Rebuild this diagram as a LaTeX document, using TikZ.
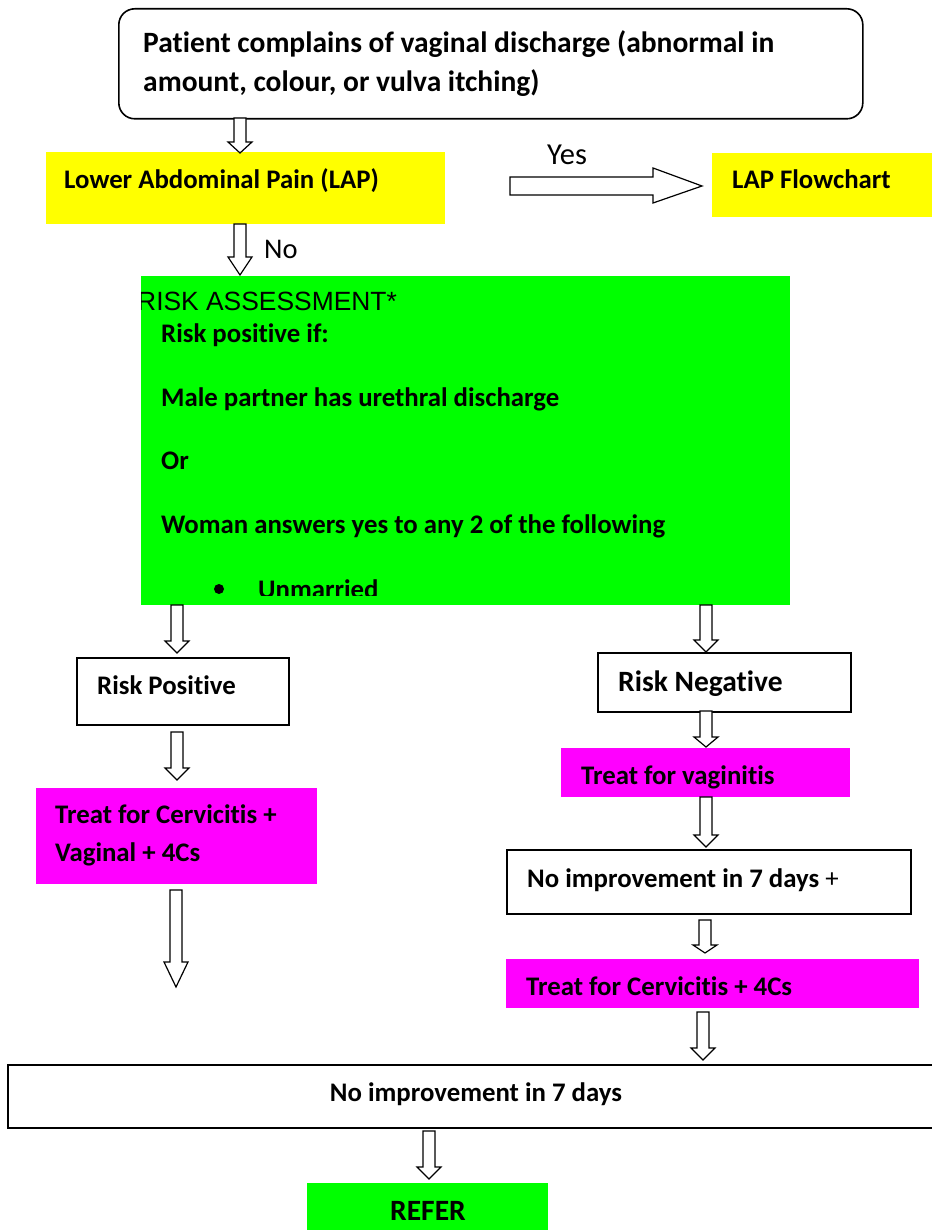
\documentclass[tikz,border=0pt]{standalone}
\usepackage{fontspec}
\setmainfont[Ligatures=NoCommon]{Carlito}
\newfontfamily\arialfont{Liberation Sans}
\definecolor{ylw}{HTML}{FFFF00}
\definecolor{grn}{HTML}{00FF00}
\definecolor{mag}{HTML}{FF00FF}
\tikzset{
  wbox/.style={draw=black, line width=1.6pt, fill=white, inner sep=0pt, anchor=north west},
  cbox/.style={inner sep=0pt, anchor=north west},
  txt/.style={inner sep=0pt, anchor=base west, font=\fontsize{26.8}{30}\selectfont\bfseries},
  bigtxt/.style={inner sep=0pt, anchor=base west, font=\fontsize{29.5}{33}\selectfont\bfseries},
  rtxt/.style={inner sep=0pt, anchor=base west, font=\fontsize{28.5}{32}\selectfont},
  harrow/.style={draw=black, line width=1.2pt, fill=white, line join=miter}
}
\newcommand{\hdown}[4]{% x, ytop, ytip, head length
  \draw[harrow] ({#1-6},#2) -- ({#1+6},#2) -- ({#1+6},{#3-#4}) -- ({#1+12},{#3-#4})
    -- (#1,#3) -- ({#1-12},{#3-#4}) -- ({#1-6},{#3-#4}) -- cycle;}
\begin{document}
\begin{tikzpicture}[x=1pt,y=-1pt]
\useasboundingbox (0,0) rectangle (931,1230);
% top box
\node[wbox, rounded corners=16pt, minimum width=744pt, minimum height=110pt] (start) at (118,8) {};
\node[bigtxt] (t1) at (143,53) {Patient complains of vaginal discharge (abnormal in};
\node[bigtxt] (t2) at (143,92) {amount, colour, or vulva itching)};
% LAP
\node[cbox, fill=ylw, minimum width=399pt, minimum height=72pt] (lap) at (46,152) {};
\node[txt] at (64,189) {Lower Abdominal Pain (LAP)};
\node[cbox, fill=ylw, minimum width=222pt, minimum height=64pt] (lapf) at (712,153) {};
\node[txt] at (732,189) {LAP Flowchart};
\node[rtxt, font=\fontsize{30.5}{34}\selectfont] (yes) at (547,165) {Yes};
\node[rtxt] (no) at (264,259) {No};
% green risk box
\node[cbox, fill=grn, minimum width=649pt, minimum height=329pt] (risk) at (141,276) {};
\begin{scope}
\clip (141,276) rectangle (790,595);
\node[inner sep=0pt, anchor=base west, font=\arialfont\fontsize{26.4}{30}\selectfont] at (137,310) {RISK ASSESSMENT*};
\node[txt] at (161,342) {Risk positive if:};
\node[txt] at (161,406) {Male partner has urethral discharge};
\node[txt] at (161,469) {Or};
\node[txt] at (161,533) {Woman answers yes to any 2 of the following};
\fill (219,589) circle (5pt);
\node[txt] at (258,598) {Unmarried};
\end{scope}
% left branch
\node[wbox, minimum width=212pt, minimum height=67pt] (rpos) at (76,657) {};
\node[txt] at (97,694) {Risk Positive};
\node[cbox, fill=mag, minimum width=281pt, minimum height=96pt] (tcv) at (36,788) {};
\node[txt] at (55,823) {Treat for Cervicitis +};
\node[txt] at (55,861) {Vaginal + 4Cs};
% right branch
\node[wbox, minimum width=253pt, minimum height=59pt] (rneg) at (597,652) {};
\node[bigtxt] at (618,691) {Risk Negative};
\node[cbox, fill=mag, minimum width=289pt, minimum height=49pt] (tv) at (561,748) {};
\node[txt] at (581,784) {Treat for vaginitis};
\node[wbox, minimum width=404pt, minimum height=64pt] (noimp1) at (506,849) {};
\node[txt] at (527,887) {No improvement in 7 days \mdseries+};
\node[cbox, fill=mag, minimum width=413pt, minimum height=49pt] (tc4) at (506,959) {};
\node[txt] at (526,995) {Treat for Cervicitis + 4Cs};
% bottom
\node[wbox, minimum width=930pt, minimum height=63pt] (noimp2) at (7,1064) {};
\node[txt, anchor=base] at (476,1101) {No improvement in 7 days};
\node[cbox, fill=grn, minimum width=241pt, minimum height=48pt] (refer) at (307,1183) {};
\node[bigtxt, anchor=base] at (428,1220) {REFER};
% arrows
\hdown{240}{118}{153}{11}
\hdown{240}{224}{275}{18}
\hdown{177}{605}{653}{12}
\hdown{706}{605}{652}{12}
\hdown{177}{732}{780}{12}
\hdown{706}{711}{747}{10}
\hdown{176}{890}{987}{25}
\hdown{706}{797}{847}{12}
\hdown{705}{920}{953}{8}
\hdown{703}{1012}{1060}{12}
\hdown{429}{1131}{1179}{12}
\draw[harrow] (510,177) -- (653,177) -- (653,168) -- (702,186) -- (653,203) -- (653,195) -- (510,195) -- cycle;
\end{tikzpicture}
\end{document}
